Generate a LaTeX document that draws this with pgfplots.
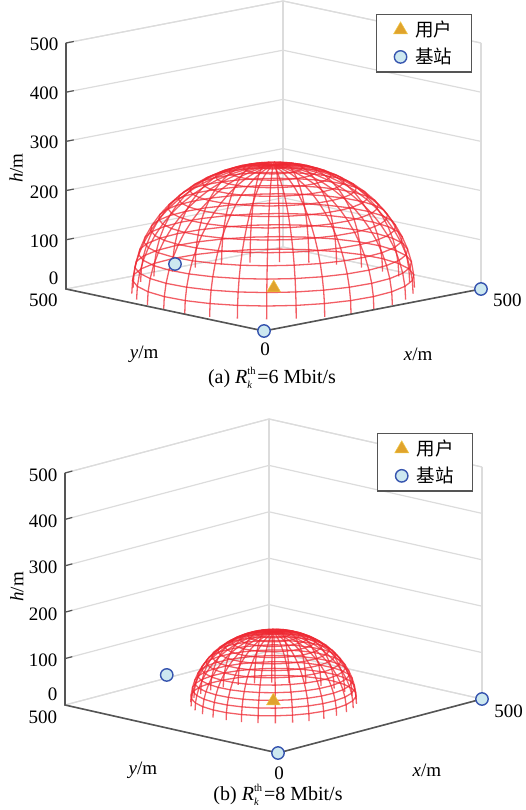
\documentclass[border=0pt]{standalone}
\usepackage{pgfplots}
\usepackage{pgfplotstable}
\usepackage{fontspec}
\setmainfont{Liberation Serif}
\newfontfamily\cjk{Noto Sans CJK SC}
\pgfplotsset{compat=1.18}
\definecolor{wire}{RGB}{238,40,50}
\definecolor{darkax}{RGB}{85,85,85}
\definecolor{lightax}{RGB}{220,220,220}
\definecolor{bsfill}{RGB}{205,232,240}
\definecolor{bsedge}{RGB}{55,85,175}
\definecolor{userfill}{RGB}{224,163,45}
\definecolor{useredge}{RGB}{240,200,70}

% unit circle of the mesh, 30 meridians
\pgfplotstableread{
c s d
-0.7071 -0.7071 0
-0.5446 -0.8387 0
-0.3584 -0.9336 0
-0.1564 -0.9877 0
0.0523 -0.9986 0
0.2588 -0.9659 0
0.4540 -0.8910 0
0.6293 -0.7771 0
0.7771 -0.6293 0
0.8910 -0.4540 0
0.9659 -0.2588 0
0.9986 -0.0523 0
0.9877 0.1564 0
0.9336 0.3584 0
0.8387 0.5446 0
0.7071 0.7071 0
0.5446 0.8387 0
0.3584 0.9336 0
0.1564 0.9877 0
-0.0523 0.9986 0
-0.2588 0.9659 0
-0.4540 0.8910 0
-0.6293 0.7771 0
-0.7771 0.6293 0
-0.8910 0.4540 0
-0.9659 0.2588 0
-0.9986 0.0523 0
-0.9877 -0.1564 0
-0.9336 -0.3584 0
-0.8387 -0.5446 0
-0.7071 -0.7071 0
}\ringtable
% quarter arc of a meridian, 15 rings
\pgfplotstableread{
cl sl d
1.0000 0.0000 0
0.9945 0.1045 0
0.9781 0.2079 0
0.9511 0.3090 0
0.9135 0.4067 0
0.8660 0.5000 0
0.8090 0.5878 0
0.7431 0.6691 0
0.6691 0.7431 0
0.5878 0.8090 0
0.5000 0.8660 0
0.4067 0.9135 0
0.3090 0.9511 0
0.2079 0.9781 0
0.1045 0.9945 0
0.0000 1.0000 0
}\arctable

\newcommand{\dome}[4]{%
  \foreach \cl/\sl in {0.9945/0.1045,0.9781/0.2079,0.9511/0.3090,0.9135/0.4067,0.8660/0.5000,0.8090/0.5878,0.7431/0.6691,0.6691/0.7431,0.5878/0.8090,0.5000/0.8660,0.4067/0.9135,0.3090/0.9511,0.2079/0.9781,0.1045/0.9945}{%
    \addplot3[wireline] table[x expr={#1+#3*\cl*\thisrow{c}},y expr={#2+#3*\cl*\thisrow{s}},z expr={#4*\sl}] {\ringtable};
  }%
  \foreach \ca/\sa in {-0.7071/-0.7071,-0.5446/-0.8387,-0.3584/-0.9336,-0.1564/-0.9877,0.0523/-0.9986,0.2588/-0.9659,0.4540/-0.8910,0.6293/-0.7771,0.7771/-0.6293,0.8910/-0.4540,0.9659/-0.2588,0.9986/-0.0523,0.9877/0.1564,0.9336/0.3584,0.8387/0.5446,0.7071/0.7071,0.5446/0.8387,0.3584/0.9336,0.1564/0.9877,-0.0523/0.9986,-0.2588/0.9659,-0.4540/0.8910,-0.6293/0.7771,-0.7771/0.6293,-0.8910/0.4540,-0.9659/0.2588,-0.9986/0.0523,-0.9877/-0.1564,-0.9336/-0.3584,-0.8387/-0.5446}{%
    \addplot3[wireline] table[x expr={#1+#3*\ca*\thisrow{cl}},y expr={#2+#3*\sa*\thisrow{cl}},z expr={#4*\thisrow{sl}}] {\arctable};
  }%
}
\newcommand{\frontaxes}{%
  \addplot3[draw=darkax,line width=1.6pt,forget plot] coordinates {(500,0,0) (0,0,0) (0,500,0) (0,500,500)};
  \addplot3[draw=darkax,line width=1.2pt,forget plot] coordinates {
    (0,500,100) (18,500,100)

    (0,500,200) (18,500,200)

    (0,500,300) (18,500,300)

    (0,500,400) (18,500,400)

    (0,500,500) (18,500,500)
  };
}

\pgfplotsset{
  wireline/.style={forget plot,no marks,solid,color=wire,line width=1.3pt,opacity=0.75},
  userpt/.style={only marks,mark=triangle*,mark size=8pt,mark options={draw=useredge,fill=userfill,line width=0.5pt}},
  bspt/.style={only marks,mark=*,mark size=6.2pt,mark options={draw=bsedge,fill=bsfill,line width=1.4pt}},
  panel/.style={
    anchor=origin,clip=false,
    xmin=0,xmax=500,ymin=0,ymax=500,zmin=0,zmax=500,
    xtick={500},ytick={500},ztick={0,100,...,500},
    extra x ticks={0},
    zticklabels={\raisebox{6pt}[0pt][0pt]{0},100,200,300,400,500},
    zmajorgrids=true,
    major grid style={color=lightax,line width=1.2pt},
    axis line style={color=lightax,line width=1.2pt},
    xtick style={draw=none},ytick style={draw=none},ztick style={draw=none},
    ticklabel style={font=\fontsize{19}{19}\selectfont,text=black},
    zticklabel style={xshift=-4pt,yshift=-1.5pt},
    /pgf/number format/assume math mode=true,
    label style={font=\fontsize{19}{19}\selectfont},
    xlabel={\textit{x}/m},ylabel={\textit{y}/m},zlabel={\textit{h}/m},
    legend cell align=left,
    legend style={anchor=north west,draw=darkax,line width=1.3pt,fill=white,font=\fontsize{18.5}{18.5}\selectfont\cjk,inner xsep=17pt,inner ysep=4.5pt,row sep=6pt,/tikz/column 1/.style={column sep=6pt}},
  }
}
\newcommand{\capt}[1]{(#1) \textit{R}\hbox to 10pt{\rlap{\raisebox{-0.55ex}{\fontsize{10.5}{10.5}\selectfont\textit{k}}}\raisebox{0.95ex}{\fontsize{10.5}{10.5}\selectfont th}\hss}}

\begin{document}
\begin{tikzpicture}[x=1pt,y=1pt]
\useasboundingbox (0,0) rectangle (525,810);

\begin{axis}[panel,
  at={(264pt,479pt)},
  x={(0.434pt,0.084pt)},y={(-0.396pt,0.084pt)},z={(0pt,0.492pt)},
  xticklabel style={xshift=17pt},
  yticklabel style={xshift=-13pt},
  extra x tick style={xticklabel style={xshift=-24pt,yshift=-8pt},xtick style={draw=none}},
  x label style={at={(axis cs:55,-329,0)},anchor=center},
  y label style={at={(axis cs:-276,0,0)},anchor=center},
  z label style={at={(axis cs:0,626,224)},anchor=center},
  legend style={at={(axis cs:258,0,600)}},
]
\addplot3[userpt] coordinates {(256,256,0)};
\addlegendentry{用户}
\addplot3[bspt] coordinates {(0,0,0) (500,0,0) (273,524,0)};
\addlegendentry{基站}
\dome{240}{240}{241}{255}
\frontaxes
\end{axis}

\begin{axis}[panel,
  at={(278pt,57pt)},
  x={(0.408pt,0.108pt)},y={(-0.426pt,0.096pt)},z={(0pt,0.464pt)},
  xticklabel style={xshift=17pt},
  yticklabel style={xshift=-13pt},
  extra x tick style={xticklabel style={xshift=-24pt,yshift=-10pt},xtick style={draw=none}},
  x label style={at={(axis cs:83,-270,0)},anchor=center},
  y label style={at={(axis cs:-237,90,0)},anchor=center},
  z label style={at={(axis cs:0,613,231)},anchor=center},
  legend style={at={(axis cs:243,0,633)}},
]
\addplot3[userpt] coordinates {(255,255,0)};
\addlegendentry{用户}
\addplot3[bspt] coordinates {(0,0,0) (500,0,0) (265,515,0)};
\addlegendentry{基站}
\dome{245}{245}{141}{153}
\frontaxes
\end{axis}

\node[font=\fontsize{20}{20}\selectfont] at (272,432) {\capt{a}=6 Mbit/s};
\node[font=\fontsize{20}{20}\selectfont] at (278,15) {\capt{b}=8 Mbit/s};
\end{tikzpicture}
\end{document}
